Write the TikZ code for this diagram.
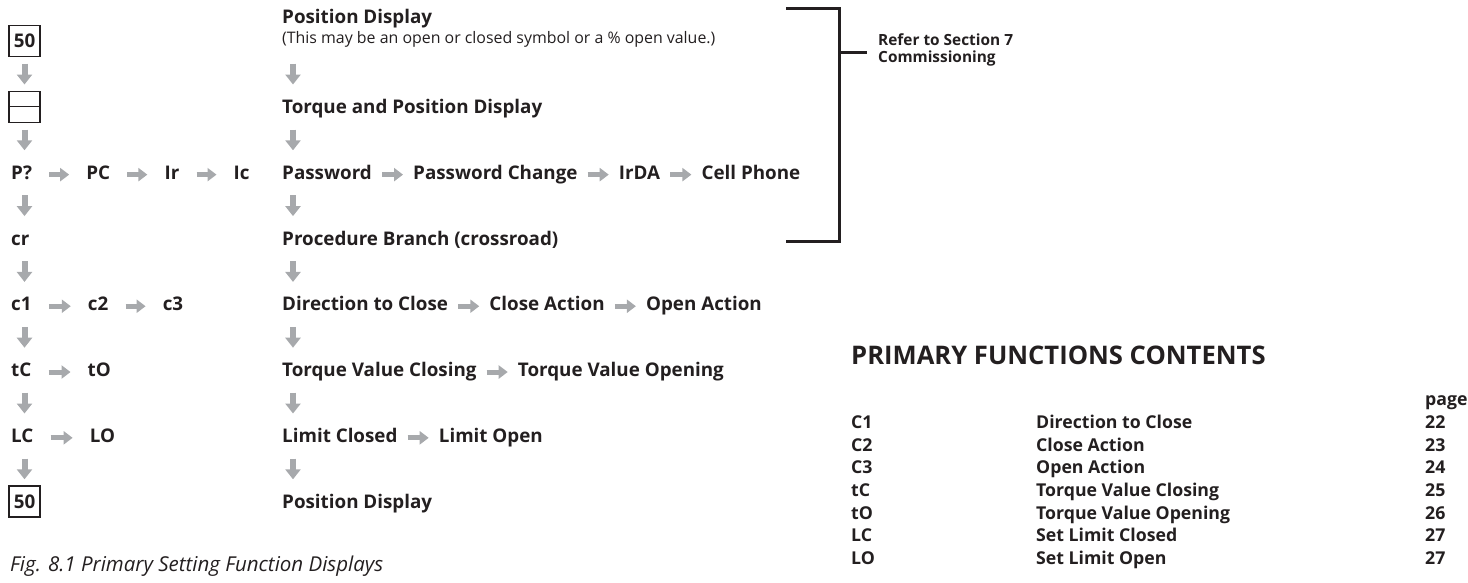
\documentclass[tikz,border=0pt]{standalone}
\usepackage{fontspec}
\setmainfont{Open Sans}
\definecolor{ArrGray}{HTML}{A7A9AC}
\definecolor{InkBlack}{HTML}{231F20}
\usetikzlibrary{arrows.meta,positioning}
\newcommand{\lbl}{\fontsize{18.8}{22}\selectfont\bfseries}
\newcommand{\tabfont}{\fontsize{17.7}{21}\selectfont\bfseries}
\newcommand{\notefont}{\fontsize{15.9}{18}\selectfont}
\newcommand{\referfont}{\fontsize{15.4}{16.5}\selectfont\bfseries}

\begin{document}
\begin{tikzpicture}[x=1pt,y=-1pt,
  txt/.style={anchor=base west,inner sep=0pt,font=\lbl,text=InkBlack},
  dbox/.style={draw=InkBlack,line width=1.3pt,minimum width=31pt,minimum height=31pt,
    inner sep=0pt,anchor=base,font=\lbl,text=InkBlack},
  darr/.style={ArrGray,line width=6pt,-{Triangle[length=10pt,width=15pt]},
    shorten <=16pt,shorten >=29pt},
  rarr/.style={ArrGray,line width=5pt,-{Triangle[length=9pt,width=13pt]}},
  brk/.style={InkBlack,line width=3pt}]
  \useasboundingbox (0,0) rectangle (1468,582);
  \coordinate (lcol) at (24.5,0);
  \coordinate (rcol) at (293,0);

  \node[dbox] (pd1) at (24.5,47.7) {50};
  \node[dbox] (tpd) at (24.5,113.5) {\phantom{50}};
  \draw[InkBlack,line width=1.3pt] (tpd.west) -- (tpd.east);
  \node[txt] (pq) at (11,179.3) {P?};
  \node[txt,base right=54pt of pq] (pc) {PC};
  \node[txt,base right=54pt of pc] (ir) {Ir};
  \node[txt,base right=54pt of ir] (ic) {Ic};
  \node[txt] (cr) at (11,245.1) {cr};
  \node[txt] (ca) at (11,310.9) {c1};
  \node[txt,base right=56pt of ca] (cb) {c2};
  \node[txt,base right=54pt of cb] (cc) {c3};
  \node[txt] (tc) at (11,376.7) {tC};
  \node[txt,base right=56pt of tc] (to) {tO};
  \node[txt] (lcl) at (11,442.5) {LC};
  \node[txt,base right=56pt of lcl] (lo) {LO};
  \node[dbox] (pd2) at (24.5,508.3) {50};

  \node[txt] (posd) at (282,23.5) {Position Display};
  \node[txt,font=\notefont] (note) at (282,43.5) {(This may be an open or closed symbol or a \% open value.)};
  \node[txt] (tqd) at (282,113.5) {Torque and Position Display};
  \node[txt] (pw) at (282,179.3) {Password};
  \node[txt,base right=41pt of pw] (pwc) {Password Change};
  \node[txt,base right=41pt of pwc] (irda) {IrDA};
  \node[txt,base right=41pt of irda] (cell) {Cell Phone};
  \node[txt] (pb) at (282,245.1) {Procedure Branch (crossroad)};
  \node[txt] (dir) at (282,310.9) {Direction to Close};
  \node[txt,base right=41pt of dir] (cla) {Close Action};
  \node[txt,base right=41pt of cla] (opa) {Open Action};
  \node[txt] (tvc) at (282,376.7) {Torque Value Closing};
  \node[txt,base right=41pt of tvc] (tvo) {Torque Value Opening};
  \node[txt] (lmc) at (282,442.5) {Limit Closed};
  \node[txt,base right=41pt of lmc] (lmo) {Limit Open};
  \node[txt] (pd3) at (282,508.3) {Position Display};

  \foreach \a/\b in {pd1/tpd,tpd/pq,pq/cr,cr/ca,ca/tc,tc/lcl,lcl/pd2}
    \draw[darr] (\a.base -| lcol) -- (\b.base -| lcol);
  \draw[darr,shorten <=20pt] (note.base -| rcol) -- (tqd.base -| rcol);
  \foreach \a/\b in {tqd/pw,pw/pb,pb/dir,dir/tvc,tvc/lmc,lmc/pd3}
    \draw[darr] (\a.base -| rcol) -- (\b.base -| rcol);
  \foreach \a/\b in {pq/pc,pc/ir,ir/ic,ca/cb,cb/cc,tc/to,lcl/lo}
    \draw[rarr,shorten <=17pt,shorten >=17pt] ([yshift=2pt]\a.mid east) -- ([yshift=2pt]\b.mid west);
  \foreach \a/\b in {pw/pwc,pwc/irda,irda/cell,dir/cla,cla/opa,tvc/tvo,lmc/lmo}
    \draw[rarr,shorten <=10pt,shorten >=10pt] ([yshift=2pt]\a.mid east) -- ([yshift=2pt]\b.mid west);

  \draw[brk] (786,8) -| (839.5,241) -- (786,241);
  \draw[brk] (839.5,52) -- (867,52);
  \node[anchor=west,align=left,inner sep=0pt,font=\referfont,text=InkBlack] (refer) at (878,50)
    {Refer to Section 7\\Commissioning};

  \node[txt,font=\fontsize{25.6}{30}\selectfont\bfseries] (pfc) at (851,364) {PRIMARY FUNCTIONS CONTENTS};
  \node[txt,font=\tabfont] (pghead) at (1425,405.3) {page};
  \foreach \cd/\nm/\pg [count=\i from 0] in {C1/Direction to Close/22,C2/Close Action/23,
      C3/Open Action/24,tC/Torque Value Closing/25,tO/Torque Value Opening/26,
      LC/Set Limit Closed/27,LO/Set Limit Open/27} {
    \node[txt,font=\tabfont] (code\i) at (851,428.3+22.7*\i) {\cd};
    \node[txt,font=\tabfont] (name\i) at (1036,428.3+22.7*\i) {\nm};
    \node[txt,font=\tabfont] (page\i) at (1425,428.3+22.7*\i) {\pg};
  }

  \node[txt,font=\fontsize{20.5}{24}\selectfont\itshape] (cap) at (10,571) {Fig. 8.1 Primary Setting Function Displays};
\end{tikzpicture}
\end{document}
